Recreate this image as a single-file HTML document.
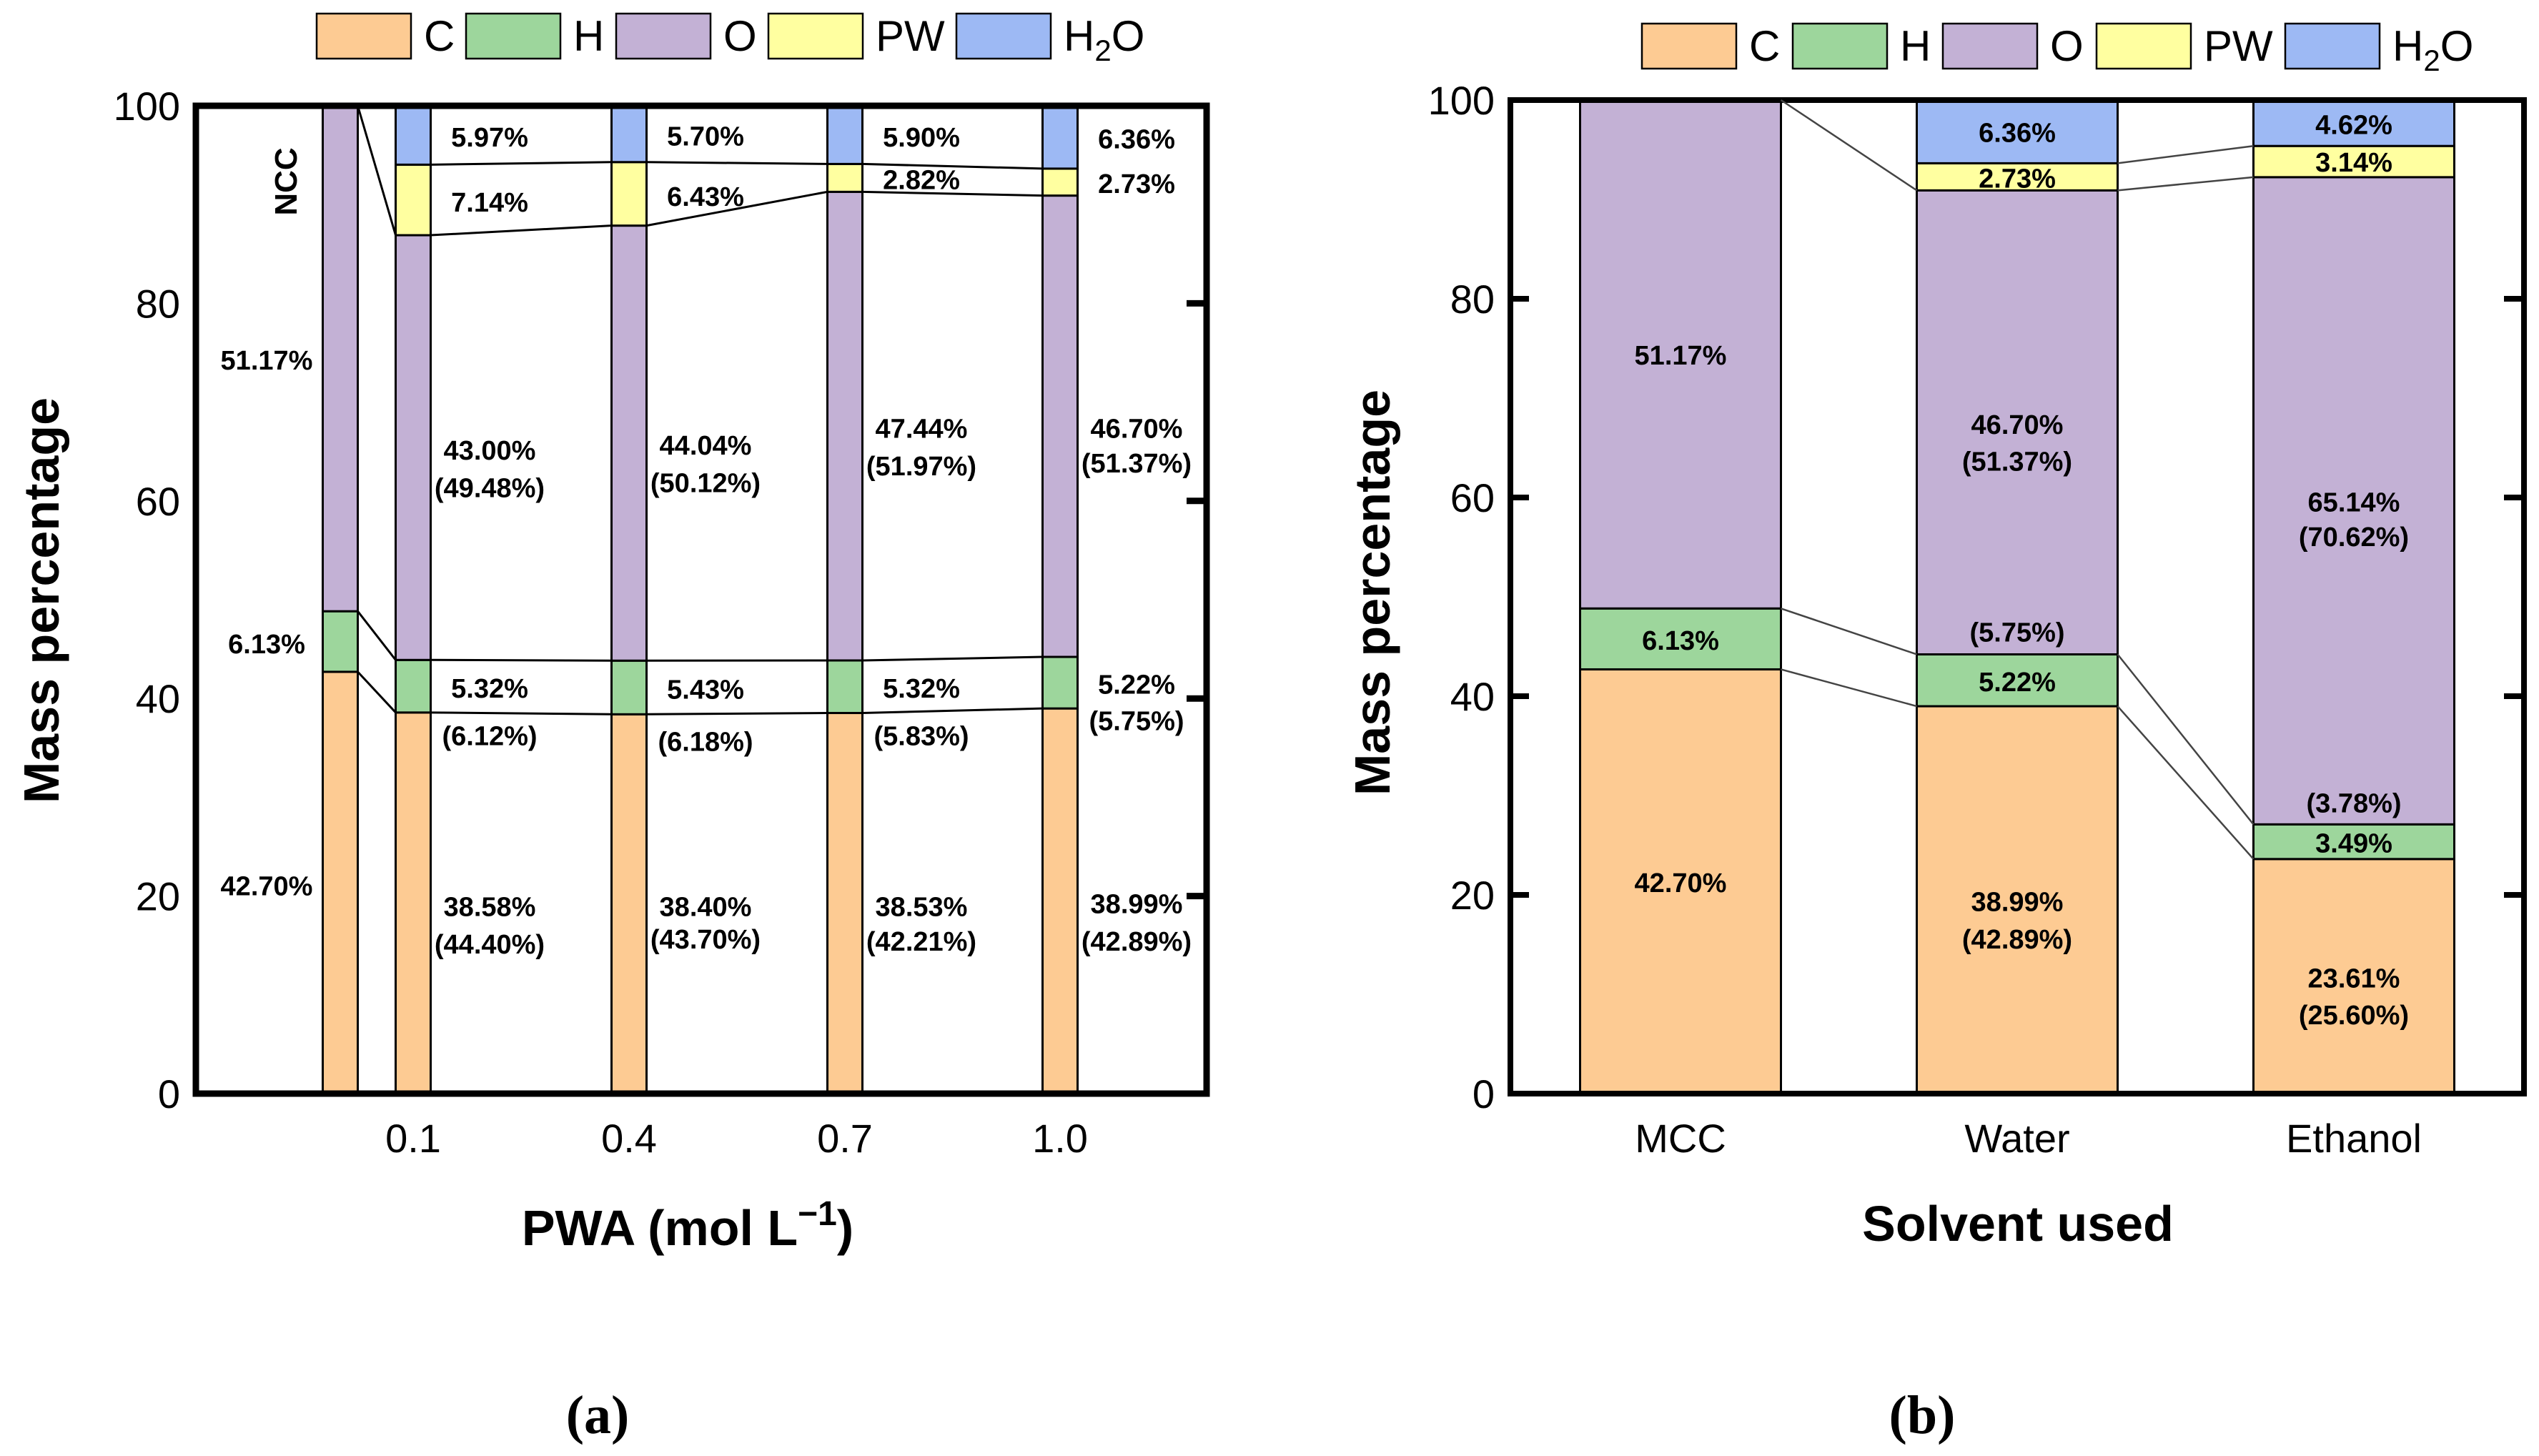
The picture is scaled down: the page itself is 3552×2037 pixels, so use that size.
<!DOCTYPE html>
<html><head><meta charset="utf-8"><style>
html,body{margin:0;padding:0;background:#fff;}
svg{display:block;font-family:"Liberation Sans",Arial,sans-serif;}
</style></head><body>
<svg id="fig" width="3552" height="2037" viewBox="0 0 3552 2037" xmlns="http://www.w3.org/2000/svg"></svg>
<script>
// ---- data ----
const compNames = ['C','H','O','PW','H2O'];
const colors = ['#FDCB93','#9DD69C','#C3B1D5','#FFFFA0','#9DB9F4'];
const aCats = ['NCC','0.1','0.4','0.7','1.0'];
const aC = [42.70,38.58,38.40,38.53,38.99];
const aH = [6.13,5.32,5.43,5.32,5.22];
const aO = [51.17,43.00,44.04,47.44,46.70];
const aPW = [0,7.14,6.43,2.82,2.73];
const aW = [0,5.97,5.70,5.90,6.36];
const bCats = ['MCC','Water','Ethanol'];
const bC = [42.70,38.99,23.61];
const bH = [6.13,5.22,3.49];
const bO = [51.17,46.70,65.14];
const bPW = [0,2.73,3.14];
const bW = [0,6.36,4.62];
const yTicks = [0,20,40,60,80,100];
// labels: [barIndex, text, yValue]
const aLabels = [
 [0,'51.17%',74.3],[0,'6.13%',45.6],[0,'42.70%',21.1],
 [1,'5.97%',96.9],[1,'7.14%',90.3],[1,'43.00%',65.2],[1,'(49.48%)',61.4],[1,'5.32%',41.1],[1,'(6.12%)',36.3],[1,'38.58%',19.0],[1,'(44.40%)',15.2],
 [2,'5.70%',97.0],[2,'6.43%',90.9],[2,'44.04%',65.7],[2,'(50.12%)',61.9],[2,'5.43%',41.0],[2,'(6.18%)',35.7],[2,'38.40%',19.0],[2,'(43.70%)',15.7],
 [3,'5.90%',96.9],[3,'2.82%',92.6],[3,'47.44%',67.4],[3,'(51.97%)',63.6],[3,'5.32%',41.1],[3,'(5.83%)',36.3],[3,'38.53%',19.0],[3,'(42.21%)',15.5],
 [4,'6.36%',96.7],[4,'2.73%',92.2],[4,'46.70%',67.4],[4,'(51.37%)',63.9],[4,'5.22%',41.5],[4,'(5.75%)',37.8],[4,'38.99%',19.3],[4,'(42.89%)',15.5]
];
const bLabels = [
 [0,'51.17%',74.4],[0,'6.13%',45.7],[0,'42.70%',21.3],
 [1,'6.36%',96.8],[1,'2.73%',92.2],[1,'46.70%',67.4],[1,'(51.37%)',63.7],[1,'(5.75%)',46.5],[1,'5.22%',41.5],[1,'38.99%',19.4],[1,'(42.89%)',15.6],
 [2,'4.62%',97.6],[2,'3.14%',93.8],[2,'65.14%',59.6],[2,'(70.62%)',56.1],[2,'(3.78%)',29.3],[2,'3.49%',25.3],[2,'23.61%',11.7],[2,'(25.60%)',8.0]
];

const NS='http://www.w3.org/2000/svg';
const svg=document.getElementById('fig');
function el(tag,attrs,parent,text){const e=document.createElementNS(NS,tag);for(const k in attrs)e.setAttribute(k,attrs[k]);if(text!==undefined)e.textContent=text;(parent||svg).appendChild(e);return e;}

function panel(cfg){
  const g=el('g',{});
  
  
  const Y=v=>cfg.y0-(cfg.y0-cfg.y100)*v/100;
  const series=[cfg.C,cfg.H,cfg.O,cfg.PW,cfg.W];
  const tops=[];
  cfg.cats.forEach((cat,i)=>{
    const cx=cfg.xs[i];let cum=0;const t=[];
    series.forEach((s,k)=>{
      const v=s[i];
      if(v>0){
        const top=Math.min(cum+v,100);
        const r=el('rect',{x:cx-cfg.bw/2,y:Y(top),width:cfg.bw,height:Y(cum)-Y(top),fill:colors[k],stroke:'#000','stroke-width':3},g);
        
        
      }
      cum+=v;t.push(Math.min(cum,100));
    });
    tops.push(t);
  });
  for(let i=0;i<cfg.cats.length-1;i++){
    const a=tops[i],b=tops[i+1];
    const xa=cfg.xs[i]+cfg.bw/2,xb=cfg.xs[i+1]-cfg.bw/2;
    const n=cfg.PW[i]===0?2:4;
    for(let j=0;j<n;j++){
      const ln=el('line',{x1:xa,y1:Y(a[j]),x2:xb,y2:Y(b[j]),stroke:cfg.lineColor,'stroke-width':cfg.lineW},g);
      
      
    }
  }
  const fr=el('rect',{x:cfg.x0,y:cfg.y100,width:cfg.x1-cfg.x0,height:cfg.y0-cfg.y100,fill:'none',stroke:'#000','stroke-width':cfg.frameW},g);
  
  
  yTicks.forEach(t=>{
    const tx=el('text',{x:cfg.x0-22,y:Y(t)+20,'text-anchor':'end','font-size':56},g,String(t));
    
    
    if(t>0&&t<100){
      const tk=el('line',{x1:cfg.x1-28,y1:Y(t),x2:cfg.x1,y2:Y(t),stroke:'#000','stroke-width':cfg.frameW},g);
      
      
      if(cfg.leftTicks){
        const tk2=el('line',{x1:cfg.x0,y1:Y(t),x2:cfg.x0+26,y2:Y(t),stroke:'#000','stroke-width':cfg.frameW},g);
        
        
      }
    }
  });
  cfg.xlab.forEach((c,i)=>{
    if(!c)return;
    const tx=el('text',{x:cfg.xlabX[i],y:1612,'text-anchor':'middle','font-size':56},g,c);
    
    
  });
  cfg.labels.forEach(L=>{
    const tx=el('text',{x:cfg.xs[L[0]]+cfg.labOff(L[0]),y:Y(L[2])+14,'text-anchor':'middle','font-size':38,'font-weight':'bold'},g,L[1]);
    
    
  });
  cfg.legX.forEach((lx,k)=>{
    const r=el('rect',{x:lx,y:cfg.legY,width:132,height:63,fill:colors[k],stroke:'#000','stroke-width':2.5},g);
    
    
    const tx=el('text',{x:lx+150,y:cfg.legY+52,'font-size':60},g);
    
    
    if(k===4){tx.textContent='H';el('tspan',{dy:14,'font-size':42},tx,'2');el('tspan',{dy:-14},tx,'O');}
    else tx.textContent=compNames[k];
  });
  return {g,Y};
}

const A=panel({name:'panel-a',cats:aCats,C:aC,H:aH,O:aO,PW:aPW,W:aW,
  x0:274,x1:1688,y0:1530,y100:148,xs:[476,578,880,1182,1483],bw:49,frameW:9,
  lineColor:'#000',lineW:3,leftTicks:false,
  xlab:['','0.1','0.4','0.7','1.0'],xlabX:[0,578,880,1182,1483],
  labels:aLabels,labOff:i=>i===0?-103:107,legX:[443,652,862,1075,1338],legY:19});
const extra=el('line',{x1:476+24.5,y1:A.Y(100),x2:578-24.5,y2:A.Y(aC[1]+aH[1]+aO[1]),stroke:'#000','stroke-width':3},A.g);


const ncc=el('text',{x:0,y:0,'font-size':44,'font-weight':'bold','text-anchor':'middle',transform:'translate(415,254) rotate(-90)'},A.g,'NCC');



const B=panel({name:'panel-b',cats:bCats,C:bC,H:bH,O:bO,PW:bPW,W:bW,
  x0:2113,x1:3531,y0:1530,y100:140,xs:[2351,2822,3293],bw:281,frameW:8,
  lineColor:'#444',lineW:2.5,leftTicks:true,
  xlab:bCats,xlabX:[2351,2822,3293],
  labels:bLabels,labOff:()=>0,legX:[2297,2508,2718,2933,3197],legY:33});
const extraB=el('line',{x1:2351+140.5,y1:B.Y(100),x2:2822-140.5,y2:B.Y(bC[1]+bH[1]+bO[1]),stroke:'#444','stroke-width':2.5},B.g);



function title(txt,x,y,rot,name){const t=el('text',{x:0,y:0,'font-size':70,'font-weight':'bold','text-anchor':'middle',transform:`translate(${x},${y})`+(rot?' rotate(-90)':'')},svg,txt);return t;}
title('Mass percentage',82,840,true,'y-axis-title-a');
title('Mass percentage',1944,829,true,'y-axis-title-b');
const xa=title('PWA (mol L',962,1742,false,'x-axis-title-a');
el('tspan',{dy:-28,'font-size':48},xa,'\u22121');
el('tspan',{dy:28},xa,')');
title('Solvent used',2823,1736,false,'x-axis-title-b');
const ca=el('text',{x:836,y:2005,'font-size':76,'font-weight':'bold','text-anchor':'middle','font-family':'"Liberation Serif",serif'},svg,'(a)');

const cb=el('text',{x:2689,y:2005,'font-size':76,'font-weight':'bold','text-anchor':'middle','font-family':'"Liberation Serif",serif'},svg,'(b)');

</script>
</body></html>
